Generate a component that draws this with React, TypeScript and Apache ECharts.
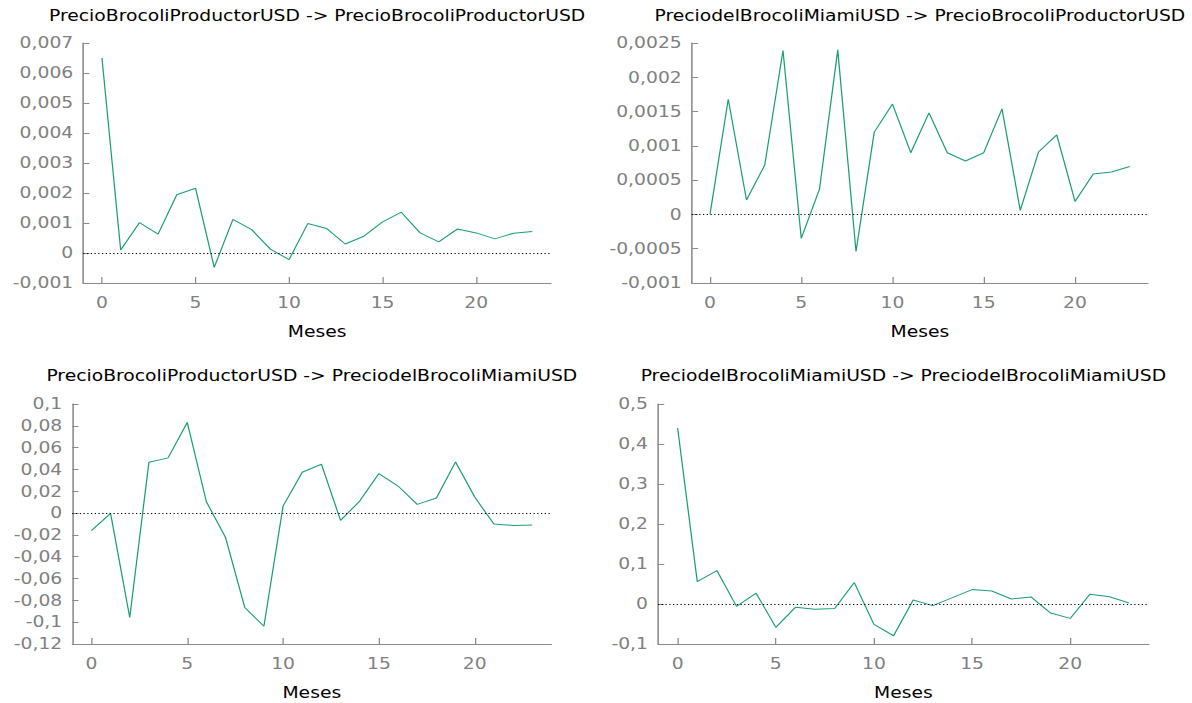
import React, { useEffect, useRef } from "react";
import * as echarts from "echarts";

// Horizon (months)
const months = [0, 1, 2, 3, 4, 5, 6, 7, 8, 9, 10, 11, 12, 13, 14, 15, 16, 17, 18, 19, 20, 21, 22, 23];
const xTickValues = [0, 5, 10, 15, 20];

const titles = [
  "PrecioBrocoliProductorUSD -> PrecioBrocoliProductorUSD",
  "PreciodelBrocoliMiamiUSD -> PrecioBrocoliProductorUSD",
  "PrecioBrocoliProductorUSD -> PreciodelBrocoliMiamiUSD",
  "PreciodelBrocoliMiamiUSD -> PreciodelBrocoliMiamiUSD",
];

const prodToProd = [
  0.0065, 0.0001, 0.00101, 0.00063, 0.00194, 0.00216, -0.00048, 0.00112, 0.00078, 0.00013,
  -0.00022, 0.00098, 0.00082, 0.0003, 0.00056, 0.00104, 0.00136, 0.00067, 0.00037, 0.0008,
  0.00067, 0.00047, 0.00066, 0.00072,
];
const miamiToProd = [
  0, 0.00168, 0.00021, 0.00072, 0.00239, -0.00035, 0.00037, 0.0024, -0.00054, 0.0012,
  0.00161, 0.0009, 0.00148, 0.0009, 0.00078, 0.0009, 0.00154, 0.00006, 0.00091, 0.00116,
  0.00019, 0.00059, 0.00062, 0.0007,
];
const prodToMiami = [
  -0.016, -0.0003, -0.0957, 0.0466, 0.0506, 0.0831, 0.0104, -0.0224, -0.0865, -0.1037,
  0.0064, 0.0374, 0.0448, -0.0067, 0.011, 0.0362, 0.0248, 0.008, 0.0138, 0.0469,
  0.0147, -0.0101, -0.0113, -0.011,
];
const miamiToMiami = [
  0.44, 0.056, 0.0836, -0.006, 0.027, -0.0585, -0.0084, -0.0134, -0.011, 0.0535,
  -0.051, -0.0794, 0.01, -0.004, 0.016, 0.036, 0.0326, 0.0125, 0.0176, -0.0226,
  -0.036, 0.0243, 0.018, 0.0025,
];

const yMins = [-0.001, -0.001, -0.12, -0.1];
const yMaxs = [0.007, 0.0025, 0.1, 0.5];
const yIntervals = [0.001, 0.0005, 0.02, 0.1];

const SX = 1.25;
const W = 1192 / SX;
const H = 703;

const grids = [
  { left: 66.6, top: 43, width: 374.2, height: 240 },
  { left: 553.4, top: 43, width: 365, height: 240 },
  { left: 57.8, top: 404, width: 383.3, height: 240 },
  { left: 526.4, top: 404, width: 392.6, height: 240 },
];
const titleY = [15.5, 15.5, 376, 376];

const FONT = '"DejaVu Sans", Verdana, sans-serif';
const LINE = "#1b9e77";
const AXIS = "#8a8a8a";
const LABEL = "#808080";

const fmt = (v: number) => {
  const r = Number(v.toFixed(6));
  if (r === 0) return "0";
  return String(r).replace(".", ",");
};

export default function App() {
  const ref = useRef<HTMLDivElement>(null);
  useEffect(() => {
    if (!ref.current) return;
    const chart = echarts.init(ref.current, undefined, { renderer: "svg" });
    const series = [prodToProd, miamiToProd, prodToMiami, miamiToMiami];
    const option: any = {
      animation: false,
      backgroundColor: "#ffffff",
      grid: grids.map((g) => ({ ...g, containLabel: false })),
      xAxis: grids.map((_, i) => ({
        type: "value",
        gridIndex: i,
        position: "bottom",
        min: -1,
        max: 24,
        name: "Meses",
        nameLocation: "middle",
        nameGap: 41,
        nameTextStyle: { color: "#000", fontSize: 15, fontFamily: FONT },
        axisLine: { show: true, onZero: false, lineStyle: { color: AXIS, width: 1 } },
        axisTick: { show: true, inside: true, length: 6, customValues: xTickValues, lineStyle: { color: AXIS, width: 1 } },
        axisLabel: { show: true, customValues: xTickValues, color: LABEL, fontSize: 15, fontFamily: FONT, margin: 12 },
        splitLine: { show: false },
      })),
      yAxis: grids.map((_, i) => ({
        type: "value",
        gridIndex: i,
        position: "left",
        min: yMins[i],
        max: yMaxs[i],
        interval: yIntervals[i],
        axisLine: { show: true, onZero: false, lineStyle: { color: AXIS, width: 1.25 } },
        axisTick: { show: true, inside: true, length: 5, lineStyle: { color: AXIS, width: 1 } },
        axisLabel: { color: LABEL, fontSize: 15, fontFamily: FONT, margin: 8, formatter: fmt },
        splitLine: { show: false },
      })),
      graphic: titles.map((t, i) => ({
        type: "text",
        x: grids[i].left + grids[i].width / 2,
        y: titleY[i],
        style: {
          text: t,
          fill: "#000",
          fontSize: 15,
          fontFamily: FONT,
          align: "center",
          verticalAlign: "middle",
        },
      })),
      series: series.map((vals, i) => ({
        type: "line",
        xAxisIndex: i,
        yAxisIndex: i,
        data: months.map((m, k) => [m, vals[k]]),
        showSymbol: false,
        symbol: "none",
        lineStyle: { color: LINE, width: 1 },
        markLine: {
          silent: true,
          symbol: ["none", "none"],
          label: { show: false },
          lineStyle: { color: "#000", width: 1, type: [1, 2] },
          data: [{ yAxis: 0 }],
        },
      })),
    };
    chart.setOption(option);
    return () => chart.dispose();
  }, []);
  return (
    <div
      ref={ref}
      style={{
        position: "absolute",
        left: 0,
        top: 0,
        width: W,
        height: H,
        transform: `scaleX(${SX})`,
        transformOrigin: "0 0",
        background: "#fff",
      }}
    />
  );
}
